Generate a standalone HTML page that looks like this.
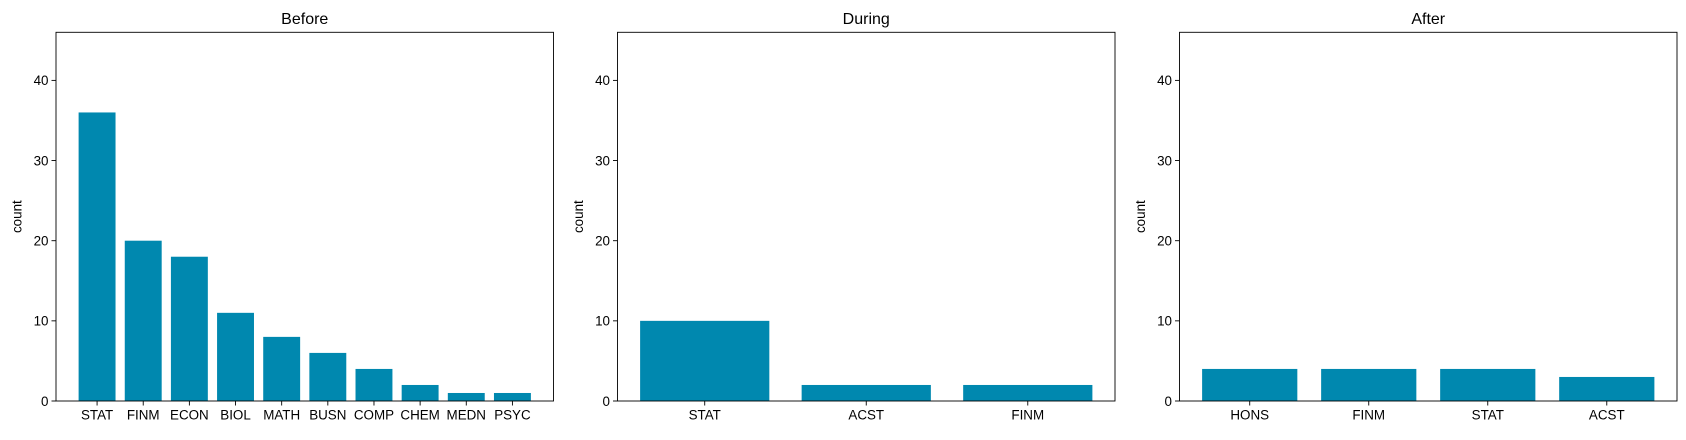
<!DOCTYPE html>
<html><head><meta charset="utf-8"><style>
body{margin:0;background:#fff;}
svg text{font-family:"Liberation Sans","DejaVu Sans",sans-serif;fill:#000;}
</style></head><body>
<svg id="chart" width="1686" height="435" xmlns="http://www.w3.org/2000/svg"></svg>
<script>
const titles = ["Before","During","After"];
const beforeCats = ["STAT","FINM","ECON","BIOL","MATH","BUSN","COMP","CHEM","MEDN","PSYC"];
const beforeVals = [36,20,18,11,8,6,4,2,1,1];
const duringCats = ["STAT","ACST","FINM"];
const duringVals = [10,2,2];
const afterCats = ["HONS","FINM","STAT","ACST"];
const afterVals = [4,4,4,3];
const yTicks = [0,10,20,30,40];
const yMax = 46;

const panels = [
  {left:56, cats:beforeCats, vals:beforeVals},
  {left:617.5, cats:duringCats, vals:duringVals},
  {left:1179.5, cats:afterCats, vals:afterVals}
];
const W = 497.5, axTop = 32.3, axBottom = 401;
const svg = document.getElementById('chart');
const NS = "http://www.w3.org/2000/svg";
function mk(tag, attrs, parent){
  const e = document.createElementNS(NS, tag);
  for (const k in attrs) e.setAttribute(k, attrs[k]);
  parent.appendChild(e);
  return e;
}
panels.forEach((p, pi) => {
  const g = mk('g', {}, svg);
  
  
  const n = p.cats.length;
  const lo = -0.4 - 0.05*(n - 0.2), hi = n - 1 + 0.4 + 0.05*(n - 0.2);
  const x = v => p.left + (v - lo) / (hi - lo) * W;
  const y = v => axBottom - v / yMax * (axBottom - axTop);
  p.vals.forEach((v, i) => {
    const r = mk('rect', {x:x(i-0.4), y:y(v), width:x(i+0.4)-x(i-0.4), height:axBottom-y(v), fill:'#0088af'}, g);
    
    
    mk('line', {x1:x(i), x2:x(i), y1:axBottom, y2:axBottom+4.5, stroke:'#000', 'stroke-width':0.9}, g);
    const t = mk('text', {x:x(i), y:axBottom+18.5, 'text-anchor':'middle', 'font-size':13.4}, g);
    t.textContent = p.cats[i];
    
    
  });
  yTicks.forEach(v => {
    mk('line', {x1:p.left-4.5, x2:p.left, y1:y(v), y2:y(v), stroke:'#000', 'stroke-width':0.9}, g);
    const t = mk('text', {x:p.left-7.5, y:y(v)+4.8, 'text-anchor':'end', 'font-size':13.4}, g);
    t.textContent = v;
    
    
  });
  const fr = mk('rect', {x:p.left, y:axTop, width:W, height:axBottom-axTop, fill:'none', stroke:'#000', 'stroke-width':0.9}, g);
  
  
  const tt = mk('text', {x:p.left+W/2, y:24, 'text-anchor':'middle', 'font-size':16}, g);
  tt.textContent = titles[pi];
  
  
  const yl = mk('text', {x:0, y:0, 'text-anchor':'middle', 'font-size':13.4, transform:`translate(${p.left-34.5},${(axTop+axBottom)/2}) rotate(-90)`}, g);
  yl.textContent = 'count';
  
  
});
</script>
</body></html>
